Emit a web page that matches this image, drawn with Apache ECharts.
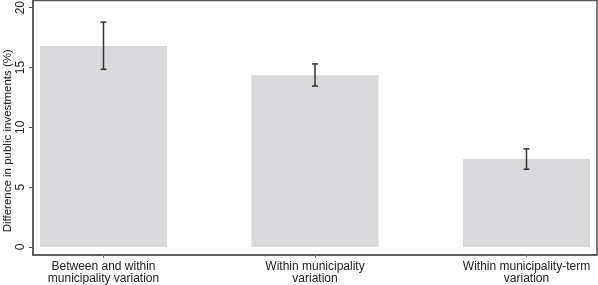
<!DOCTYPE html>
<html>
<head>
<meta charset="utf-8">
<script src="https://cdn.jsdelivr.net/npm/echarts@6/dist/echarts.min.js"></script>
<style>
  html, body { margin: 0; padding: 0; background: #fff; }
  #chart { width: 598px; height: 285px; }
</style>
</head>
<body>
<div id="chart"></div>
<script>
const categories = [
  "Between and within\nmunicipality variation",
  "Within municipality\nvariation",
  "Within municipality-term\nvariation",
];
const positions = [1, 2, 3];
const estimates = [16.8, 14.35, 7.35];
const ciLower = [14.85, 13.45, 6.5];
const ciUpper = [18.8, 15.3, 8.2];
const yTicks = [0, 5, 10, 15, 20];

const font = "'Liberation Sans', Arial, Helvetica, sans-serif";
const frame = "#555";

const chart = echarts.init(document.getElementById("chart"));

const option = {
  animation: false,
  textStyle: { fontFamily: font },
  grid: {
    left: 33,
    right: 1,
    top: 0.5,
    bottom: 30,
    containLabel: false,
    outerBoundsMode: "none",
    show: true,
    borderColor: frame,
    borderWidth: 1.5,
    backgroundColor: "#fff",
  },
  xAxis: {
    type: "value",
    min: 2 / 3,
    max: 10 / 3,
    splitLine: { show: false },
    axisLine: { show: true, onZero: false, lineStyle: { color: frame, width: 1.5 } },
    axisTick: {
      show: true,
      length: 3,
      customValues: positions,
      lineStyle: { color: "#888", width: 1 },
    },
    axisLabel: {
      customValues: positions,
      color: "#222",
      fontSize: 12,
      lineHeight: 12,
      margin: 6,
      formatter: (v) => categories[positions.indexOf(Math.round(v))] || "",
    },
  },
  yAxis: {
    type: "value",
    min: -0.667,
    max: 20.6,
    splitLine: { show: false },
    axisLine: { show: true, onZero: false, lineStyle: { color: frame, width: 1.5 } },
    axisTick: {
      show: true,
      length: 4,
      customValues: yTicks,
      lineStyle: { color: frame, width: 1 },
    },
    axisLabel: {
      customValues: yTicks,
      rotate: 90,
      color: "#222",
      fontSize: 12,
      margin: 6,
    },
    name: "Difference in public investments (%)",
    nameLocation: "middle",
    nameRotate: 90,
    nameGap: 19,
    nameMoveOverlap: false,
    nameTextStyle: {
      color: "#222",
      fontSize: 11.5,
      padding: [0, 26, 0, 0],
    },
  },
  series: [
    {
      type: "bar",
      barWidth: 127,
      itemStyle: { color: "#d9d9db" },
      data: positions.map((p, i) => [p, estimates[i]]),
      z: 2,
    },
    {
      type: "custom",
      z: 3,
      data: positions.map((p, i) => [p, ciLower[i], ciUpper[i]]),
      renderItem: (params, api) => {
        const lo = api.coord([api.value(0), api.value(1)]);
        const hi = api.coord([api.value(0), api.value(2)]);
        const half = 3;
        const style = { stroke: "#333", lineWidth: 1.5 };
        return {
          type: "group",
          children: [
            { type: "line", shape: { x1: lo[0], y1: lo[1], x2: hi[0], y2: hi[1] }, style },
            { type: "line", shape: { x1: hi[0] - half, y1: hi[1], x2: hi[0] + half, y2: hi[1] }, style },
            { type: "line", shape: { x1: lo[0] - half, y1: lo[1], x2: lo[0] + half, y2: lo[1] }, style },
          ],
        };
      },
    },
  ],
};

chart.setOption(option);
window.addEventListener("resize", () => chart.resize());
</script>
</body>
</html>
